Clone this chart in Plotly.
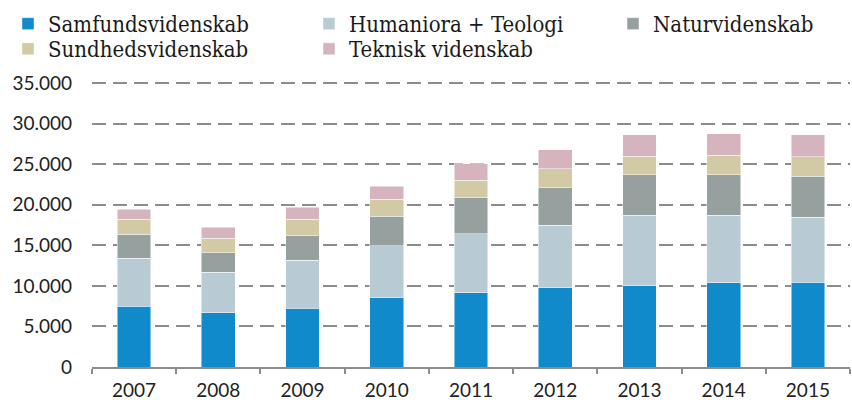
import plotly.graph_objects as go

years = ["2007", "2008", "2009", "2010", "2011", "2012", "2013", "2014", "2015"]
samfund = [7490, 6670, 7250, 8520, 9140, 9800, 10000, 10370, 10420]
humaniora = [5930, 5020, 5920, 6420, 7280, 7690, 8690, 8320, 8060]
natur = [2960, 2380, 3000, 3630, 4440, 4610, 5010, 5010, 5020]
sundhed = [1820, 1780, 2060, 2100, 2190, 2340, 2300, 2400, 2400]
teknisk = [1270, 1400, 1490, 1630, 2010, 2310, 2600, 2670, 2740]

series = [
    ("Samfundsvidenskab", samfund, "#118ACB", "legend"),
    ("Humaniora + Teologi", humaniora, "#B8CAD4", "legend"),
    ("Naturvidenskab", natur, "#96A19F", "legend3"),
    ("Sundhedsvidenskab", sundhed, "#D2CAA4", "legend2"),
    ("Teknisk videnskab", teknisk, "#D5B4BE", "legend2"),
]

fig = go.Figure()
for name, vals, color, lg in series:
    fig.add_trace(go.Bar(
        x=years, y=vals, name=name, legend=lg,
        marker=dict(color=color, line=dict(color="rgba(255,255,255,0.6)", width=0.8)),
    ))

legend_font = dict(family="DejaVu Serif Condensed", size=22, color="#1a1a1a")
common_legend = dict(
    orientation="h", xref="container", yref="container",
    xanchor="left", yanchor="top", font=legend_font,
    entrywidth=256, entrywidthmode="pixels",
    itemwidth=30, bgcolor="rgba(0,0,0,0)", traceorder="normal",
    itemclick=False,
)

fig.update_layout(
    width=852, height=400,
    margin=dict(l=92, r=2, t=79, b=33, autoexpand=False),
    plot_bgcolor="white", paper_bgcolor="white",
    barmode="stack", bargap=0.6,
    separators=",.",
    showlegend=True,
    legend=dict(common_legend, x=0.0094, y=0.9928),
    legend3=dict(common_legend, x=0.7195, y=0.9928),
    legend2=dict(common_legend, x=0.0094, y=0.930),
    font=dict(family="Lato", size=19, color="#222222"),
    xaxis=dict(
        type="category", tickson="boundaries", automargin=False,
        showline=True, linecolor="#8c8c8c", linewidth=2,
        ticks="outside", ticklen=5, tickwidth=2, tickcolor="#8c8c8c",
        ticklabelstandoff=5,
        showgrid=False, tickfont=dict(family="Lato", size=19, color="#222222"),
    ),
    yaxis=dict(
        range=[0, 35500], tickvals=[0, 5000, 10000, 15000, 20000, 25000, 30000, 35000],
        tickformat=",d", showgrid=True, gridcolor="#8c8c8c", gridwidth=2,
        griddash="14px,7px", zeroline=False, showline=False, automargin=False,
        ticks="", ticklabelstandoff=19,
        tickfont=dict(family="Lato", size=19, color="#222222"),
    ),
)

fig.write_html(
    "out.html",
    config={"displayModeBar": False},
    post_script="document.body.style.margin='0';document.body.style.padding='0';",
)
